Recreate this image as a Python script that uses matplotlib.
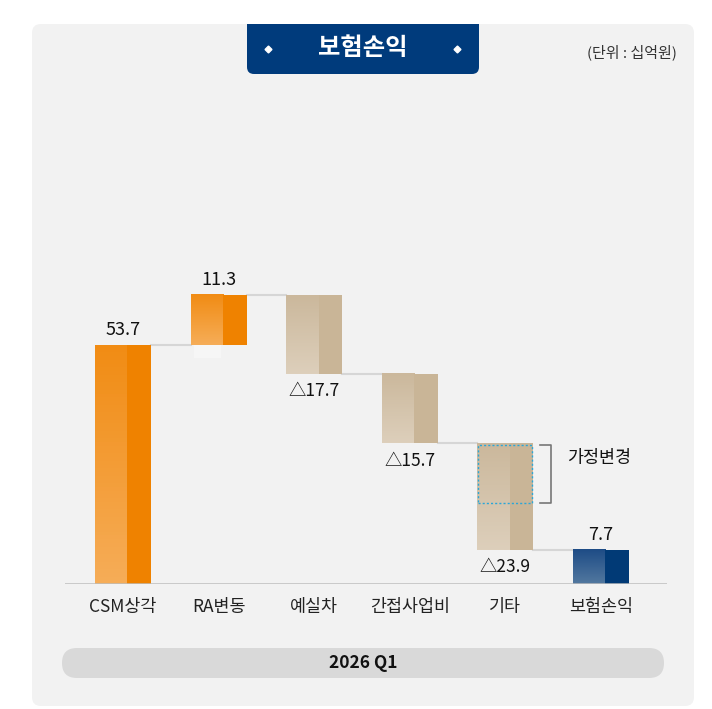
import numpy as np
import matplotlib.pyplot as plt
from matplotlib.colors import to_rgb
from matplotlib.patches import FancyBboxPatch, Rectangle

plt.rcParams['font.family'] = ['Noto Sans CJK KR', 'DejaVu Sans']

# data (단위: 십억원)
categories = ['CSM상각', 'RA변동', '예실차', '간접사업비', '기타', '보험손익']
changes = [53.7, 11.3, -17.7, -15.7, -23.9, 7.7]
kinds = ['up', 'up', 'down', 'down', 'down', 'total']
assumption_change = 13.3   # 기타 안의 가정변경 부분 (눈대중)
period = '2026 Q1'

W, H = 712, 709
fig = plt.figure(figsize=(W / 100, H / 100), dpi=100)
fig.patch.set_facecolor('white')

# background layer in pixel coords (y up)
bg = fig.add_axes([0, 0, 1, 1])
bg.set_xlim(0, W)
bg.set_ylim(0, H)
bg.axis('off')


def py(y):
    return H - y


bg.add_patch(FancyBboxPatch((32, py(706)), 662, 682, boxstyle='round,pad=0,rounding_size=9',
                            fc='#f2f2f2', ec='none'))
navy = '#003b7c'
bg.add_patch(FancyBboxPatch((247, py(74)), 232, 50, boxstyle='round,pad=0,rounding_size=7',
                            fc=navy, ec='none'))
bg.add_patch(Rectangle((247, py(44)), 232, 20, fc=navy, ec='none'))
bg.text(363, py(48), '보험손익', color='white', fontsize=17.5, fontweight='bold', ha='center', va='center')
bg.plot([268, 457], [py(49), py(49)], ls='none', marker='D', ms=3.5, color='white')
bg.text(632, py(52), '(단위 : 십억원)', color='#333333', fontsize=10.8, ha='center', va='center')
bg.add_patch(FancyBboxPatch((62, py(678)), 602, 30, boxstyle='round,pad=0,rounding_size=15',
                            fc='#d9d9d9', ec='none'))
bg.text(363, py(663), period, color='#111111', fontsize=12.5, fontweight='bold', ha='center', va='center')

# chart axes: baseline at y=584px, 4.45 px per unit, bars 95.6 px apart
ppu = 4.45
step = 95.6
top_px = 100
ax = fig.add_axes([65 / W, py(584) / H, 602 / W, (584 - top_px) / H])
ax.set_facecolor('none')
xl = (65 - 123) / step
xr = (667 - 123) / step
ylim_top = (584 - top_px) / ppu

styles = {
    'up': ('#ef8200', '#f18c14', '#f6ad58'),
    'down': ('#c9b597', '#cbb89c', '#ddcfbb'),
    'total': ('#013a76', '#1e4c86', '#52789f'),
}

bw = 56 / step
split = 0.58
level = 0
spans = []
for i, (c, k) in enumerate(zip(changes, kinds)):
    if k == 'total':
        lo, hi = 0, c
    else:
        lo, hi = sorted([level, level + c])
        level += c
    spans.append((lo, hi))
    right_c, top_c, bot_c = styles[k]
    x0 = i - bw / 2
    xs = x0 + bw * split
    grad = np.linspace(0, 1, 64)[:, None]
    c1 = np.array(to_rgb(bot_c))
    c2 = np.array(to_rgb(top_c))
    img = c1 + (c2 - c1) * grad[..., None]
    img = np.repeat(img, 2, axis=1)
    ax.imshow(img, extent=(x0, xs, lo, hi), origin='lower', aspect='auto', zorder=2)
    ax.bar(xs, hi - lo, bottom=lo, width=i + bw / 2 - xs, align='edge', color=right_c, zorder=2)

    if k == 'down':
        ax.annotate('△' + f'{abs(c):.1f}', (i, lo), xytext=(0, -6), textcoords='offset points',
                    ha='center', va='top', fontsize=12.5, color='#111111', fontweight='medium')
    else:
        ax.annotate(f'{c:.1f}', (i, hi), xytext=(0, 4), textcoords='offset points',
                    ha='center', va='bottom', fontsize=13, color='#111111', fontweight='medium')

# faint reflection under RA bar
ri = categories.index('RA변동')
ax.add_patch(Rectangle((ri - bw / 2 + 3 / step, spans[ri][0] - 3), bw * split - 5 / step, 3,
                       fc='#f6f6f6', ec='none', zorder=1))

# connector lines
level = 0
for i in range(len(changes) - 1):
    level = level + changes[i] if kinds[i] != 'total' else changes[i]
    ax.plot([i + bw / 2, i + 1 - bw / 2], [level, level], color='#d6d6d6', lw=1.5, zorder=1)

# 가정변경 box inside 기타
gi = categories.index('기타')
g_hi = spans[gi][1]
g_lo = g_hi - assumption_change
ax.add_patch(Rectangle((gi - bw / 2 + 0.01, g_lo), bw - 0.02, assumption_change - 0.3,
                       fill=False, ec='#2aa6d8', lw=1, ls=(0, (1.5, 1.5)), zorder=3))
bx0 = gi + bw / 2 + 7 / step
bx1 = gi + bw / 2 + 18 / step
ax.plot([bx0, bx1, bx1, bx0], [g_hi - 0.4, g_hi - 0.4, g_lo, g_lo], color='#777777', lw=1.2)
ax.text(gi + 94 / step, g_hi - 3.2, '가정변경', fontsize=12.5, ha='center', va='center', color='#111111')

ax.axhline(0, color='#bdbdbd', lw=1.8, zorder=4)
ax.set_xlim(xl, xr)
ax.set_ylim(0, ylim_top)
ax.set_xticks(range(len(categories)))
ax.set_xticklabels(categories, fontsize=12.5, color='#222222')
ax.tick_params(axis='x', length=0, pad=10)
ax.set_yticks([])
for s in ax.spines.values():
    s.set_visible(False)

fig.savefig('out.png', dpi=100)
